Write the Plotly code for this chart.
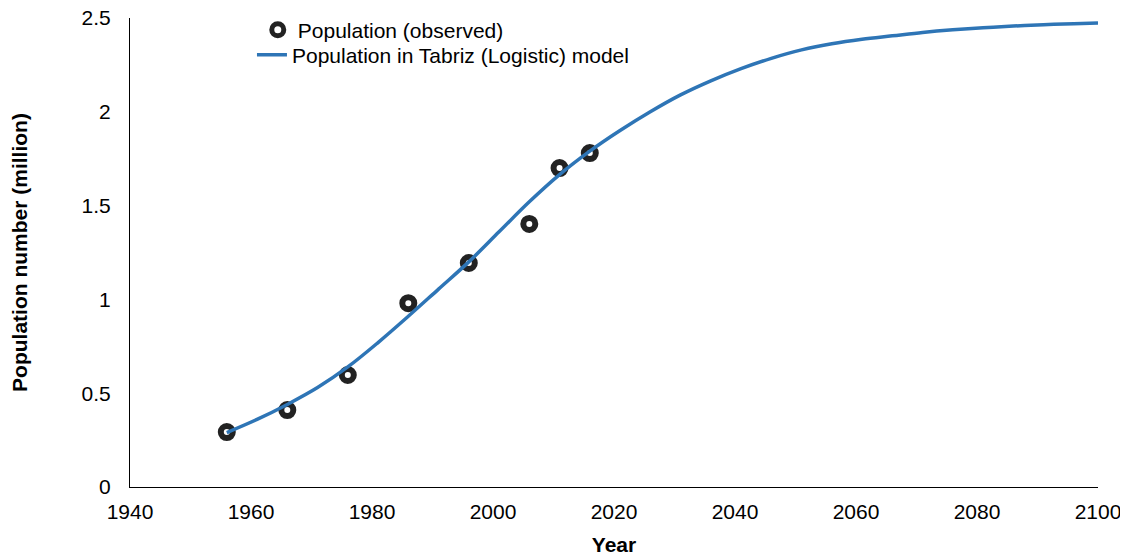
import plotly.graph_objects as go

obs_years = [1956, 1966, 1976, 1986, 1996, 2006, 2011, 2016]
obs_pop = [0.293, 0.41, 0.597, 0.98, 1.194, 1.402, 1.70, 1.78]

model_years = [1956, 1961, 1966, 1971, 1976, 1981, 1986, 1991, 1996, 2001, 2006, 2011,
               2016, 2021, 2026, 2031, 2036, 2041, 2046, 2051, 2056, 2061, 2066, 2071,
               2076, 2081, 2086, 2091, 2096, 2100]
model_pop = [0.29, 0.36, 0.44, 0.53, 0.64, 0.77, 0.91, 1.055, 1.20, 1.36, 1.52, 1.665,
             1.79, 1.90, 2.00, 2.09, 2.165, 2.23, 2.285, 2.33, 2.363, 2.387, 2.405, 2.423,
             2.437, 2.448, 2.457, 2.464, 2.47, 2.474]

x_ticks = [1940, 1960, 1980, 2000, 2020, 2040, 2060, 2080, 2100]
y_ticks = [0, 0.5, 1, 1.5, 2, 2.5]
y_tick_text = ["0", "0.5", "1", "1.5", "2", "2.5"]

FONT = "Liberation Sans, Arial, sans-serif"
FS = 21

fig = go.Figure()
fig.add_trace(go.Scatter(
    x=obs_years, y=obs_pop, mode="markers", name="Population (observed)",
    marker=dict(symbol="circle", size=12, color="white",
                line=dict(color="#222222", width=6)),
    legend="legend",
))
fig.add_trace(go.Scatter(
    x=model_years, y=model_pop, mode="lines", name="Population in Tabriz (Logistic) model",
    line=dict(color="#2E75B6", width=3.5, shape="spline"),
    legend="legend2",
))

# page body has an 8px margin, so figure is 1120x552 and margins are offset
fig.update_layout(
    width=1120, height=552,
    paper_bgcolor="white", plot_bgcolor="white",
    margin=dict(l=122, r=30, t=10, b=73, autoexpand=False),
    font=dict(family=FONT, size=FS, color="#000000"),
    showlegend=True,
    legend=dict(x=0.132, y=0.974, xanchor="left", yanchor="middle",
                bgcolor="rgba(0,0,0,0)", font=dict(size=FS), itemwidth=30),
    legend2=dict(x=0.126, y=0.921, xanchor="left", yanchor="middle",
                 bgcolor="rgba(0,0,0,0)", font=dict(size=FS), itemwidth=30),
    xaxis=dict(range=[1940, 2100], tickvals=x_ticks, showgrid=False, zeroline=False,
               showline=True, linecolor="#000000", linewidth=1, ticks="",
               ticklabelstandoff=6, ticklabeloverflow="allow", automargin=False,
               title=dict(text="<b>Year</b>", font=dict(size=FS), standoff=15)),
    yaxis=dict(range=[0, 2.5], tickvals=y_ticks, ticktext=y_tick_text, showgrid=False,
               zeroline=False, showline=True, linecolor="#000000", linewidth=1, ticks="",
               ticklabelstandoff=14, ticklabeloverflow="allow", automargin=False,
               title=dict(text="<b>Population number (million)</b>", font=dict(size=FS),
                          standoff=50)),
)

fig.write_html("out.html")
